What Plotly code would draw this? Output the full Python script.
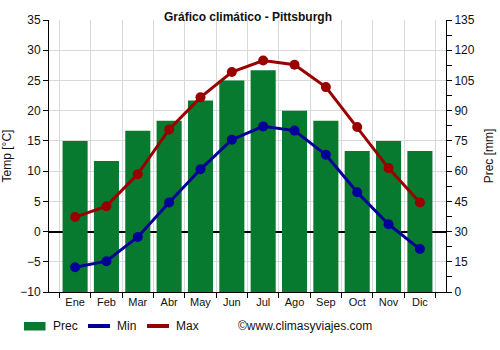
import plotly.graph_objects as go

months = ["Ene", "Feb", "Mar", "Abr", "May", "Jun", "Jul", "Ago", "Sep", "Oct", "Nov", "Dic"]
prec = [75, 65, 80, 85, 95, 105, 110, 90, 85, 70, 75, 70]
t_min = [-5.9, -4.9, -0.9, 4.8, 10.3, 15.2, 17.4, 16.7, 12.7, 6.5, 1.2, -2.9]
t_max = [2.4, 4.2, 9.5, 16.9, 22.2, 26.4, 28.3, 27.6, 23.9, 17.3, 10.5, 4.8]

font_family = "Liberation Sans, Arial, sans-serif"
GREEN, BLUE, RED = "#077a2f", "#000099", "#990000"

W, H = 500, 350
ML, MR, MT, MB = 49, 54, 20, 58
PW, PH = W - ML - MR, H - MT - MB


def px(x):
    """Pixel column -> paper x."""
    return (x - ML) / PW


def py(y):
    """Pixel row -> paper y."""
    return (H - MB - y) / PH


fig = go.Figure()
fig.add_trace(go.Bar(
    x=months, y=prec, name="Prec", yaxis="y",
    marker=dict(color=GREEN, line=dict(width=0)), width=0.8,
))
fig.add_trace(go.Scatter(
    x=months, y=t_min, name="Min", yaxis="y2", mode="lines+markers",
    line=dict(color=BLUE, width=3), marker=dict(size=10, color=BLUE),
))
fig.add_trace(go.Scatter(
    x=months, y=t_max, name="Max", yaxis="y2", mode="lines+markers",
    line=dict(color=RED, width=3), marker=dict(size=10, color=RED),
))

# Legend row beneath the plot
legend_y = 326
shapes = [
    dict(type="rect", xref="paper", yref="paper",
         x0=px(24), x1=px(45.5), y0=py(330.5), y1=py(322),
         fillcolor=GREEN, line=dict(width=0)),
    dict(type="line", xref="paper", yref="paper",
         x0=px(88), x1=px(110), y0=py(legend_y), y1=py(legend_y),
         line=dict(color=BLUE, width=4)),
    dict(type="circle", xref="paper", yref="paper",
         x0=px(97), x1=px(101), y0=py(328), y1=py(324),
         fillcolor=BLUE, line=dict(width=0)),
    dict(type="line", xref="paper", yref="paper",
         x0=px(147), x1=px(169), y0=py(legend_y), y1=py(legend_y),
         line=dict(color=RED, width=4)),
    dict(type="circle", xref="paper", yref="paper",
         x0=px(156), x1=px(160), y0=py(328), y1=py(324),
         fillcolor=RED, line=dict(width=0)),
]
legend_texts = [("Prec", 51), ("Min", 115), ("Max", 174), ("©www.climasyviajes.com", 236)]
annotations = [
    dict(text=t, xref="paper", yref="paper", x=px(x0), y=py(legend_y),
         xanchor="left", yanchor="middle", showarrow=False,
         font=dict(size=12, color="#111"))
    for t, x0 in legend_texts
]

fig.update_layout(
    width=W, height=H,
    margin=dict(l=ML, r=MR, t=MT, b=MB, autoexpand=False),
    paper_bgcolor="white", plot_bgcolor="white",
    font=dict(family=font_family, size=11, color="#111"),
    title=dict(text="<b>Gráfico climático - Pittsburgh</b>", x=0.496, xanchor="center",
               y=1 - 17 / H, yanchor="middle", font=dict(size=12, color="#111")),
    showlegend=False,
    shapes=shapes,
    annotations=annotations,
    xaxis=dict(
        type="category", tickson="boundaries", ticks="outside", ticklen=5,
        tickcolor="black", showline=True, linecolor="black", linewidth=1,
        showgrid=True, gridcolor="#d9d9d9", gridwidth=1,
        tickfont=dict(size=11),
    ),
    yaxis=dict(
        side="right", range=[0, 135], dtick=15, tick0=0,
        ticks="outside", ticklen=5, tickcolor="black",
        showline=True, linecolor="black", linewidth=1,
        showgrid=False, zeroline=False,
        minor=dict(dtick=7.5, ticks="outside", ticklen=5, tickcolor="black", showgrid=False),
        title=dict(text="Prec [mm]", font=dict(size=12), standoff=10),
        tickfont=dict(size=12),
    ),
    yaxis2=dict(
        overlaying="y", side="left", range=[-10, 35], dtick=5, tick0=0,
        ticks="outside", ticklen=5, tickcolor="black",
        showline=True, linecolor="black", linewidth=1,
        showgrid=True, gridcolor="#d9d9d9", gridwidth=1,
        zeroline=True, zerolinecolor="black", zerolinewidth=1.5,
        title=dict(text="Temp [°C]", font=dict(size=12), standoff=8),
        tickfont=dict(size=12),
    ),
)

fig.write_html("out.html")
